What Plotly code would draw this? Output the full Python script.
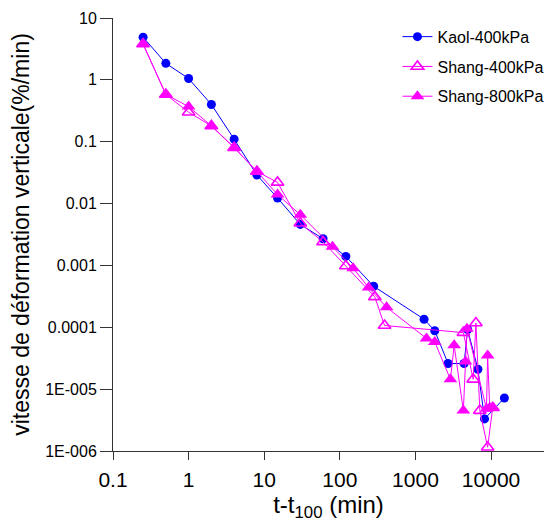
import plotly.graph_objects as go

# ---- data ----
kaol_x = [0.25, 0.5, 1, 2, 4, 8, 15, 30, 60, 120, 280, 1300, 1800, 2700, 4400, 4900, 6700, 8200, 15000]
kaol_y = [4.9, 1.85, 1.05, 0.40, 0.11, 0.029, 0.0123, 0.0046, 0.0027, 0.0014, 0.00046,
          0.000135, 8.8e-5, 2.6e-5, 2.6e-5, 9.2e-5, 2.1e-5, 3.3e-6, 7.2e-6]

shang400_x = [0.25, 0.5, 1, 2, 4, 8, 15, 30, 60, 120, 290, 390, 4300, 5800, 6300, 7100, 9000, 10500]
shang400_y = [3.8, 0.58, 0.30, 0.18, 0.08, 0.033, 0.022, 0.0048, 0.0024, 0.00098, 0.00031,
              0.000107, 8.2e-5, 1.44e-5, 1.17e-4, 4.5e-6, 1.15e-6, 5e-6]

shang800_x = [0.25, 0.5, 1, 2, 4, 8, 15, 30, 80, 150, 240, 415, 1400, 1800, 2900, 3250,
              4300, 4600, 4800, 8700, 9000, 9600, 10700]
shang800_y = [3.8, 0.58, 0.37, 0.18, 0.081, 0.033, 0.014, 0.0066, 0.0020, 0.0009, 0.00044,
              0.00021, 6.6e-5, 5.8e-5, 1.44e-5, 5.1e-5, 4.5e-6, 2.8e-5, 9.5e-5, 4.8e-6,
              3.5e-5, 5e-6, 5e-6]

x_tickvals = [0.1, 1, 10, 100, 1000, 10000]
x_ticktext = ["0.1", "1", "10", "100", "1000", "10000"]
y_tickvals = [10, 1, 0.1, 0.01, 0.001, 0.0001, 1e-5, 1e-6]
y_ticktext = ["10", "1", "0.1", "0.01", "0.001", "0.0001", "1E-005", "1E-006"]

FONT = "Arial, 'Liberation Sans', sans-serif"
BLUE = "#0000FF"
MAG = "#FF00FF"

fig = go.Figure()
fig.add_trace(go.Scatter(
    x=kaol_x, y=kaol_y, mode="lines+markers", name="Kaol-400kPa", legendgroup="a",
    line=dict(color=BLUE, width=1),
    marker=dict(symbol="circle", size=9, color=BLUE)))
fig.add_trace(go.Scatter(
    x=shang400_x, y=shang400_y, mode="lines+markers", name="Shang-400kPa", legendgroup="b",
    line=dict(color=MAG, width=1),
    marker=dict(symbol="triangle-up-open", size=11, color=MAG, line=dict(width=1.6, color=MAG))))
fig.add_trace(go.Scatter(
    x=shang800_x, y=shang800_y, mode="lines+markers", name="Shang-800kPa", legendgroup="c",
    line=dict(color=MAG, width=1),
    marker=dict(symbol="triangle-up", size=12, color=MAG)))

# page body has an 8px default margin, so the figure is 8px smaller than the window
fig.update_layout(
    width=552, height=514,
    margin=dict(l=105, r=16, t=10, b=71, autoexpand=False),
    paper_bgcolor="white", plot_bgcolor="white",
    font=dict(family=FONT, color="black"),
    showlegend=True,
    legend=dict(x=0.66, y=0.996, xanchor="left", yanchor="top",
                font=dict(size=16, family=FONT, color="black"),
                bgcolor="rgba(0,0,0,0)", tracegroupgap=6),
    xaxis=dict(
        type="log", range=[-1, 4.70], automargin=False,
        tickvals=x_tickvals, ticktext=x_ticktext,
        ticks="outside", ticklen=8, tickwidth=1, tickcolor="#333",
        showline=True, linecolor="#333", linewidth=1,
        showgrid=False, zeroline=False, mirror=False,
        ticklabelstandoff=2,
        tickfont=dict(size=21, family=FONT, color="black"),
        title=dict(text="t-t<sub>100</sub> (min)", font=dict(size=24, family=FONT, color="black"),
                   standoff=4),
    ),
    yaxis=dict(
        type="log", range=[-6, 1], automargin=False,
        tickvals=y_tickvals, ticktext=y_ticktext,
        ticks="outside", ticklen=12, tickwidth=1, tickcolor="#333",
        showline=True, linecolor="#333", linewidth=1,
        showgrid=False, zeroline=False, mirror=False,
        tickfont=dict(size=16, family=FONT, color="black"),
        title=dict(text="vitesse de déformation verticale(%/min)",
                   font=dict(size=23, family=FONT, color="black"), standoff=11),
    ),
)

fig.write_html("out.html")
